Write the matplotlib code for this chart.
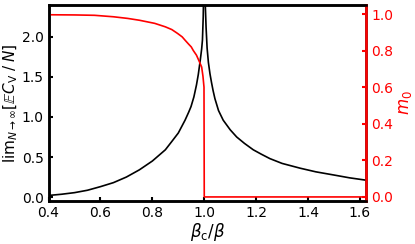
import matplotlib
matplotlib.use("Agg")
import matplotlib.pyplot as plt

# Heat-capacity curve (left axis)
t_cv = [0.40, 0.45, 0.50, 0.55, 0.60, 0.65, 0.70, 0.75, 0.80, 0.85, 0.874,
        0.90, 0.926, 0.94, 0.949, 0.96, 0.97, 0.977, 0.985, 0.990, 0.993,
        0.996, 1.000,
        1.004, 1.007, 1.011, 1.016, 1.022, 1.028, 1.034, 1.041, 1.055, 1.073,
        1.10, 1.125, 1.155, 1.189, 1.22, 1.253, 1.30, 1.37, 1.43, 1.50, 1.56,
        1.625]
cv = [0.02, 0.035, 0.055, 0.085, 0.13, 0.18, 0.25, 0.34, 0.45, 0.59, 0.69,
      0.80, 0.96, 1.06, 1.13, 1.25, 1.40, 1.53, 1.72, 1.85, 1.96,
      2.25, 3.00,
      2.40, 2.12, 1.86, 1.68, 1.54, 1.43, 1.33, 1.23, 1.08, 0.96,
      0.84, 0.75, 0.67, 0.59, 0.535, 0.48, 0.42, 0.36, 0.315, 0.275, 0.24,
      0.21]

# Order parameter (right axis)
t_m = [0.40, 0.50, 0.577, 0.65, 0.705, 0.75, 0.809, 0.85, 0.875, 0.897,
       0.915, 0.926, 0.94, 0.95, 0.958, 0.97, 0.981, 0.990, 0.995,
       0.999, 1.0, 1.625]
m0 = [0.996, 0.995, 0.993, 0.985, 0.976, 0.966, 0.949, 0.93, 0.915, 0.894,
      0.875, 0.857, 0.835, 0.82, 0.80, 0.775, 0.74, 0.71, 0.66,
      0.60, 0.0, 0.0]

xticks = [0.4, 0.6, 0.8, 1.0, 1.2, 1.4, 1.6]
lticks = [0.0, 0.5, 1.0, 1.5, 2.0]
rticks = [0.0, 0.2, 0.4, 0.6, 0.8, 1.0]

fig = plt.figure(figsize=(4.15, 2.44), dpi=100)
ax = fig.add_axes([0.117, 0.176, 0.766, 0.804])
ax.plot(t_cv, cv, color="black", lw=1.2)
ax.set_xlim(0.4, 1.625)
ax.set_ylim(-0.05, 2.4)
ax.set_xticks(xticks)
ax.set_yticks(lticks)
ax.tick_params(direction="in", length=3, width=1.5, labelsize=10)
for s in ax.spines.values():
    s.set_linewidth(1.8)
ax.set_xlabel(r"$\beta_{\rm c}/\beta$", fontsize=12, labelpad=1)
ax.set_ylabel(r"$\mathrm{lim}_{N\to\infty}[\mathbb{E}C_{\rm V}\;/\;N]$",
              fontsize=11, labelpad=1)

ax2 = ax.twinx()
ax2.plot(t_m, m0, color="red", lw=1.2)
ax2.set_ylim(-0.0225, 1.05)
ax2.set_yticks(rticks)
ax2.tick_params(axis="y", direction="in", length=3, width=1.5, labelsize=10,
                colors="red")
for s in ax2.spines.values():
    s.set_linewidth(1.8)
ax2.spines["right"].set_color("red")
ax2.set_ylabel(r"$m_0$", color="red", fontsize=12, labelpad=2)

fig.savefig("out.png", dpi=100)
